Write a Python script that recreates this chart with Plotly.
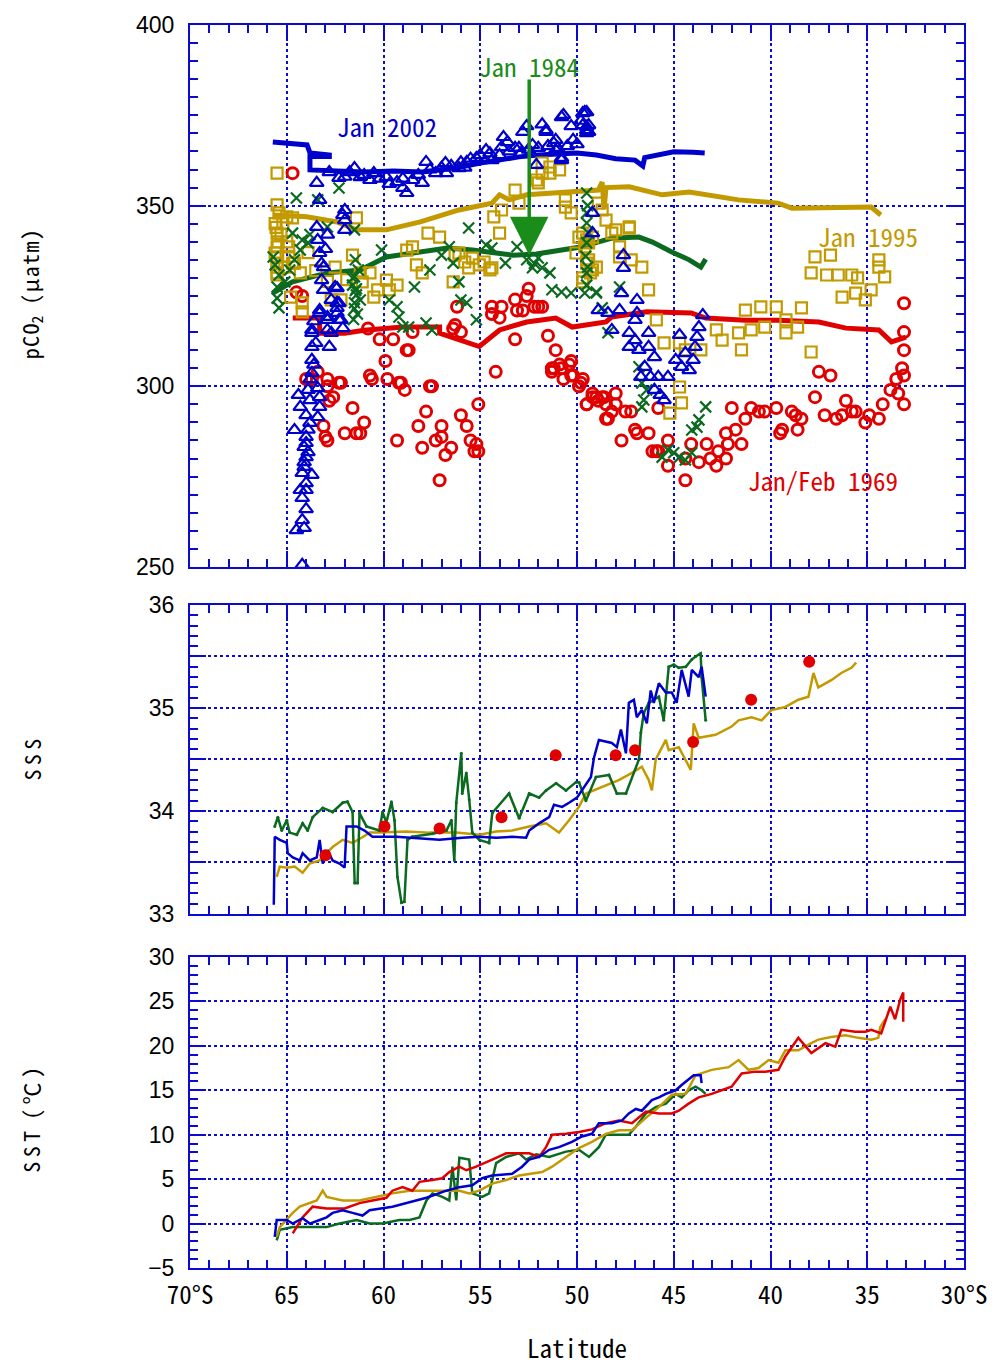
import plotly.graph_objects as go

# ---------------- pCO2 panel: atmospheric (thick) lines ----------------
atm2002_lat = [65.72, 63.95, 63.8, 62.8, 62.8, 63.8, 63.8, 62.5, 61.0, 59.5, 58.0, 57.0, 56.0, 55.0, 54.0, 53.0, 52.0,
               51.0, 50.0, 49.0, 48.0, 47.0, 46.6, 46.5, 45.7, 45.0, 44.0, 43.4]
atm2002_val = [367.6, 366.8, 364.6, 364.0, 363.6, 363.6, 359.9, 359.6, 359.3, 359.6, 359.3, 360.0, 360.7, 361.8, 362.8,
               363.5, 364.0, 364.3, 364.6, 364.0, 363.0, 362.6, 361.0, 363.3, 364.0, 364.9, 364.8, 364.6]

atm1969_lat = [64.69, 63.3, 63.3, 62.0, 61.0, 59.85, 59.0, 57.1, 57.1, 55.05, 54.0, 52.6, 51.1, 50.25, 48.5, 48.2, 46.4,
               44.1, 43.35, 41.3, 39.6, 37.5, 36.1, 34.4, 33.75, 33.0]
atm1969_val = [318.9, 318.9, 314.7, 314.7, 315.5, 316.0, 316.4, 316.4, 314.7, 311.0, 315.6, 317.8, 318.9, 316.4, 317.8,
               319.2, 320.6, 320.3, 318.9, 318.3, 318.3, 317.8, 316.1, 315.6, 312.3, 313.6]

atm1995_lat = [65.72, 63.97, 62.4, 61.4, 59.85, 58.1, 56.1, 54.4, 54.0, 53.5, 52.6, 50.9, 48.9, 48.7, 48.6, 48.5, 47.3,
               45.6, 44.2, 41.65, 39.6, 38.9, 36.1, 34.8, 34.3]
atm1995_val = [347.4, 346.9, 345.5, 343.3, 343.3, 345.5, 348.8, 350.7, 353.0, 351.6, 353.0, 353.5, 354.3, 356.5, 349.0,
               355.0, 355.2, 353.0, 353.8, 351.6, 350.7, 349.3, 349.6, 349.6, 347.4]

atm1984_lat = [65.72, 64.7, 62.9, 61.2, 59.85, 58.1, 56.7, 55.4, 54.4, 53.3, 52.1, 50.9, 49.9, 49.2, 48.2, 46.8, 46.1,
               45.1, 44.2, 43.6, 43.35]
atm1984_val = [325.8, 328.9, 331.4, 332.2, 335.8, 337.2, 338.3, 337.7, 336.9, 336.3, 336.6, 337.7, 338.5, 339.5, 341.0,
               341.3, 339.9, 337.2, 335.0, 333.0, 335.2]

# ---------------- pCO2 panel: seawater observations (markers) ----------------
sw1969 = [(64.7, 359), (64.5, 326), (64.2, 325), (64.0, 302), (63.4, 304), (62.9, 302), (62.9, 300), (62.2, 301),
          (62.8, 296), (62.6, 297), (61.6, 294), (63.1, 289), (63.0, 286), (62.9, 285), (62.0, 287), (61.4, 287),
          (61.2, 287), (61.0, 290), (60.8, 316), (60.6, 302), (60.2, 313), (59.9, 307), (59.8, 302), (59.5, 313),
          (59.1, 301), (58.9, 299), (59.3, 285), (58.7, 310), (58.5, 315), (58.2, 289), (57.8, 293), (58.0, 283),
          (57.5, 300), (57.3, 285), (57.0, 289), (57.0, 286), (57.1, 274), (56.8, 281), (56.5, 283), (56.3, 317),
          (56.0, 315), (56.2, 322), (56.0, 292), (55.7, 289), (55.5, 285), (55.3, 282), (55.1, 282), (55.2, 284),
          (55.1, 295), (54.2, 304), (54.4, 322), (53.9, 322), (54.4, 320), (54.0, 319), (53.2, 324), (53.1, 321),
          (52.6, 325), (52.5, 327), (52.0, 322), (51.8, 322), (53.2, 313), (51.5, 314), (51.1, 310), (51.2, 305),
          (50.8, 305), (50.3, 307), (50.7, 302), (50.3, 303), (49.8, 301), (49.9, 300), (49.5, 295), (49.2, 297),
          (48.9, 296), (48.6, 297), (48.5, 291), (52.8, 321), (52.2, 322), (56.4, 316), (50.9, 306), (50.4, 306),
          (51.3, 305), (51.3, 304), (50.2, 303), (58.8, 310), (59.2, 301), (57.6, 300), (60.7, 303), (62.3, 301),
          (63.7, 302), (33.1, 323), (33.1, 315), (33.1, 310), (33.2, 305), (33.1, 303), (33.5, 302), (33.8, 299),
          (33.4, 298), (33.1, 295), (34.2, 295), (34.4, 291), (34.9, 292), (35.1, 290), (35.6, 293), (35.8, 293),
          (36.1, 296), (36.3, 292), (36.6, 291), (37.2, 292), (36.9, 303), (37.5, 304), (37.7, 297), (38.4, 291),
          (38.7, 292), (38.9, 293), (38.6, 288), (39.4, 288), (39.5, 287), (39.7, 294), (40.3, 293), (40.6, 293),
          (41.0, 294), (41.3, 291), (41.8, 288), (41.5, 284), (42.0, 294), (42.3, 287), (42.2, 284), (42.3, 280),
          (42.7, 282), (42.8, 278), (43.1, 280), (43.3, 284), (44.1, 284), (43.7, 279), (44.4, 280), (45.3, 285),
          (45.8, 282), (46.1, 282), (46.3, 287), (47.0, 288), (46.9, 287), (47.7, 285), (47.2, 293), (47.5, 293),
          (48.0, 298), (48.0, 295), (48.5, 295), (48.7, 297), (49.0, 297), (49.2, 298), (49.5, 295), (49.7, 302),
          (48.4, 291), (48.2, 293), (45.8, 294), (45.9, 282), (45.3, 278), (44.4, 274)]

sw2002 = [(63.45, 356.3), (63.3, 351.6), (62.0, 348.8), (62.0, 346.0), (62.0, 343.3), (62.1, 347.4), (63.45, 344.1),
          (63.4, 340.5), (63.3, 336.9), (63.1, 333.0), (63.2, 329.4), (63.1, 326.7), (62.7, 323.9), (62.4, 327.2),
          (62.3, 323.0), (63.3, 321.1), (62.9, 318.4), (62.7, 314.8), (63.7, 314.8), (62.2, 318.4), (62.4, 320.3),
          (61.75, 359.3), (61.2, 357.9), (60.7, 357.1), (60.5, 359.0), (59.85, 357.9), (59.3, 356.5), (59.0, 354.9),
          (58.8, 353.5), (58.5, 357.1), (58.0, 356.3), (57.8, 362.1), (57.3, 359.0), (56.75, 359.0), (56.1, 360.4),
          (55.7, 362.1), (55.2, 363.2), (54.7, 365.4), (54.4, 362.6), (53.9, 366.2), (53.6, 367.6), (53.0, 366.0),
          (52.8, 370.4), (52.3, 366.8), (52.1, 361.3), (51.6, 370.4), (51.2, 367.3), (50.8, 362.6), (50.7, 375.1),
          (50.2, 368.2), (49.7, 375.6), (49.5, 371.8), (49.4, 370.4), (50.8, 374.5), (49.6, 375.9), (49.5, 370.9),
          (51.6, 370.9), (51.1, 368.2), (51.1, 365.4), (50.8, 363.2), (62.8, 359.3), (62.3, 357.7), (61.5, 360.4),
          (63.7, 315.6), (63.7, 310.9), (63.7, 307.3), (63.7, 303.7), (63.9, 299.0), (64.4, 297.6), (64.3, 294.3),
          (63.8, 296.2), (63.3, 294.3), (63.4, 291.5), (64.6, 287.9), (63.8, 289.9), (64.0, 286.0), (64.1, 283.2),
          (64.0, 280.4), (64.1, 277.7), (63.7, 275.5), (64.0, 273.2), (64.3, 271.3), (64.2, 269.1), (64.2, 263.0),
          (64.5, 260.2), (64.1, 260.8), (64.2, 250.6), (63.3, 320.3), (62.9, 319.2), (62.9, 315.6), (62.8, 310.9),
          (62.4, 321.7), (62.3, 318.4), (62.1, 316.1), (62.5, 327.5), (62.4, 323.1), (63.3, 297.0), (63.4, 299.5),
          (64.0, 284.3), (63.9, 281.8), (64.1, 279.0), (64.0, 271.3), (63.2, 334.0), (63.0, 338.0), (62.9, 342.0),
          (58.2, 358.5), (57.6, 360.0), (57.0, 360.5), (56.5, 361.0), (56.0, 362.0), (55.5, 363.0), (55.0, 364.0),
          (54.5, 364.5), (54.0, 364.0), (53.5, 365.0), (53.2, 366.0), (52.9, 364.5), (52.5, 365.5), (52.0, 366.0),
          (51.5, 366.5), (51.0, 366.0), (50.5, 366.5), (50.0, 367.0), (59.7, 356.0), (60.2, 357.5), (59.0, 357.5),
          (61.0, 358.5), (62.0, 358.0), (56.8, 361.8), (55.8, 360.5), (53.8, 369.0), (52.6, 372.0), (51.8, 372.5),
          (50.3, 372.0), (49.8, 373.5), (63.6, 318.0), (63.5, 312.0), (63.6, 306.0), (63.8, 302.0), (64.0, 292.0),
          (63.9, 288.0), (64.2, 276.0), (64.0, 266.0),
          (49.5, 375.9), (49.7, 372.3), (49.4, 372.3), (49.5, 370.1), (49.2, 348.0), (49.2, 342.4), (47.6, 336.3),
          (47.6, 332.8), (47.7, 325.8), (48.9, 321.1), (48.4, 320.3), (47.8, 321.1), (48.2, 315.6), (46.9, 323.9),
          (46.9, 320.3), (47.0, 318.4), (47.3, 314.8), (47.3, 310.9), (47.0, 312.8), (46.8, 310.1), (46.3, 314.8),
          (46.3, 310.9), (46.0, 308.1), (46.5, 305.4), (46.2, 302.6), (45.8, 302.6), (46.0, 299.0), (45.7, 297.6),
          (45.5, 296.2), (45.3, 302.6), (44.9, 307.3), (44.7, 314.2), (44.6, 305.4), (44.2, 304.5), (44.0, 307.3),
          (43.9, 310.9), (43.8, 313.7), (43.7, 316.4), (43.5, 319.7), (46.7, 302.6), (44.4, 309.2)]

sw1995 = [(65.5, 359.0), (65.5, 350.2), (65.4, 348.0), (65.5, 342.4), (65.5, 338.6), (65.6, 336.9), (65.5, 334.1),
          (65.5, 331.4), (65.0, 346.9), (64.9, 338.6), (64.6, 334.1), (65.2, 345.2), (64.7, 346.6), (65.5, 335.8),
          (65.5, 333.0), (64.7, 334.1), (64.3, 331.4), (64.2, 320.6), (62.5, 333.0), (61.6, 336.3), (61.4, 346.6),
          (62.2, 323.9), (62.7, 323.9), (61.2, 331.4), (61.1, 328.9), (60.7, 331.4), (60.5, 324.7), (60.3, 326.7),
          (59.85, 329.4), (59.7, 326.7), (59.3, 328.0), (58.8, 337.7), (58.5, 338.6), (58.3, 333.6), (58.0, 331.4),
          (57.7, 342.4), (57.1, 341.3), (56.4, 328.9), (56.1, 336.9), (55.4, 335.5), (55.05, 333.6), (54.4, 332.8),
          (54.0, 342.4), (54.3, 346.9), (53.9, 348.8), (53.2, 354.3), (53.0, 350.7), (52.1, 357.1), (51.8, 359.0),
          (51.4, 360.7), (50.9, 359.9), (50.6, 351.6), (50.3, 348.0), (49.9, 341.3), (49.6, 338.6), (49.5, 334.1),
          (49.3, 331.4), (49.7, 328.9), (65.5, 330.8), (64.8, 324.7), (64.2, 323.1), (52.0, 356.3), (51.4, 359.0),
          (51.8, 361.8), (50.6, 349.6), (49.2, 341.3), (48.9, 350.7), (49.5, 340.5), (50.05, 336.9), (49.0, 333.0),
          (47.8, 338.6), (47.3, 344.1), (48.0, 343.3), (49.4, 335.0), (48.7, 348.8), (48.5, 346.0), (49.7, 342.4),
          (48.2, 342.4), (47.3, 343.8), (49.4, 339.7), (47.8, 335.8), (47.2, 335.0), (46.65, 333.0), (46.3, 326.7),
          (49.2, 332.2), (49.7, 330.0), (45.9, 318.4), (45.5, 312.0), (44.7, 312.0), (44.4, 310.1), (43.6, 310.1),
          (44.7, 299.8), (44.6, 295.4), (45.2, 292.6), (42.8, 315.6), (42.5, 312.8), (41.65, 314.8), (41.5, 310.1),
          (41.0, 315.6), (40.3, 316.4), (41.3, 321.1), (40.5, 322.0), (39.7, 322.0), (38.4, 321.7), (39.2, 318.4),
          (38.6, 316.4), (39.2, 314.8), (37.9, 309.5), (37.7, 335.8), (36.9, 336.3), (37.9, 331.4), (37.1, 330.8),
          (36.5, 330.8), (35.8, 330.8), (35.5, 330.0), (36.3, 324.7), (35.6, 325.8), (35.1, 323.9), (34.8, 326.7),
          (34.4, 335.0), (34.4, 333.0), (34.1, 330.3), (56.3, 336.3), (55.8, 334.4), (55.6, 332.8), (54.8, 334.4),
          (54.5, 332.2), (63.9, 337.0), (63.5, 332.0), (62.9, 329.0), (61.9, 329.5), (65.6, 345.0), (65.45, 340.0),
          (65.55, 344.0), (65.3, 342.0), (65.0, 340.0), (64.9, 336.0), (65.1, 333.0)]

sw1984 = [(65.7, 335.8), (65.5, 327.5), (65.4, 321.7), (64.5, 352.1), (63.4, 351.6), (62.3, 354.9), (64.7, 342.4),
          (63.9, 339.7), (62.9, 344.1), (61.5, 343.3), (60.1, 337.7), (61.5, 330.3), (61.6, 328.0), (61.4, 325.3),
          (61.5, 323.1), (61.3, 332.2), (61.2, 323.9), (59.7, 323.9), (59.3, 322.0), (59.2, 319.2), (59.0, 316.4),
          (58.7, 316.4), (57.8, 317.5), (57.5, 315.6), (58.4, 327.5), (57.6, 332.2), (57.0, 336.3), (56.6, 338.6),
          (56.4, 334.1), (56.1, 328.9), (56.0, 323.9), (55.7, 323.1), (55.6, 343.8), (55.2, 318.4), (54.7, 339.1),
          (54.4, 338.3), (53.7, 334.1), (53.1, 338.6), (52.6, 335.0), (52.3, 332.8), (51.8, 332.8), (51.4, 331.4),
          (51.3, 326.7), (50.8, 326.1), (50.3, 325.8), (49.5, 353.5), (49.0, 325.8), (49.4, 342.4), (49.5, 339.7),
          (48.7, 321.7), (65.6, 333.6), (65.4, 330.8), (65.1, 328.9), (64.85, 332.2), (64.6, 335.0), (64.3, 337.7),
          (65.5, 324.4), (64.2, 340.5), (63.8, 342.0), (61.45, 335.0), (61.4, 327.0), (49.5, 345.2), (49.5, 331.4),
          (49.0, 326.1), (47.8, 327.5), (48.4, 314.8), (49.6, 325.8), (46.8, 305.4), (46.65, 300.9), (46.55, 296.2),
          (46.65, 294.3), (46.4, 299.0), (44.07, 287.9), (43.7, 290.7), (43.35, 294.3), (43.8, 288.7), (45.0, 281.6),
          (44.7, 280.4), (44.4, 279.6), (45.3, 282.4), (45.6, 280.4), (44.07, 281.6), (52.2, 334.0), (52.0, 335.5),
          (61.6, 330.0), (61.45, 326.5), (61.5, 321.5), (61.35, 320.0), (61.55, 318.5), (49.45, 350.0),
          (49.5, 348.0), (49.55, 336.0), (49.45, 333.0), (49.5, 328.0)]

# ---------------- SSS panel ----------------
sss2002_lat = [65.67, 65.62, 65.36, 65.00, 64.95, 64.69, 64.33, 64.18, 63.81, 63.45, 63.30, 63.14, 62.89, 62.63, 62.27,
               62.01, 61.91, 61.39, 60.98, 60.82, 60.57, 59.33, 58.51, 57.11, 55.93, 55.05, 54.18, 53.35, 52.63, 52.47,
               51.96, 51.44, 51.19, 50.77, 50.41, 50.00, 49.28, 49.12, 48.87, 48.20, 47.94, 47.73, 47.47, 47.32, 47.06,
               46.91, 46.65, 46.39, 46.19, 46.03, 45.77, 45.41, 45.10, 44.85, 44.59, 44.23, 44.07, 43.71, 43.56, 43.35]
sss2002_val = [33.09, 33.75, 33.72, 33.69, 33.59, 33.55, 33.52, 33.59, 33.52, 33.55, 33.72, 33.49, 33.62, 33.52, 33.49,
               33.45, 33.85, 33.85, 33.81, 33.79, 33.75, 33.75, 33.74, 33.72, 33.74, 33.75, 33.74, 33.75, 33.74, 33.81,
               33.88, 33.94, 34.06, 34.04, 34.08, 34.13, 34.33, 34.52, 34.69, 34.66, 34.62, 34.79, 34.56, 35.05, 35.08,
               34.91, 34.98, 34.85, 35.17, 35.05, 35.24, 35.15, 35.15, 35.05, 35.37, 35.11, 35.37, 35.30, 35.40, 35.11]

sss1984_lat = [65.62, 65.46, 65.26, 65.00, 64.85, 64.48, 64.18, 63.92, 63.66, 63.14, 62.63, 62.11, 61.86, 61.60, 61.49,
               61.34, 61.24, 60.88, 60.21, 60.05, 59.85, 59.59, 59.43, 59.28, 59.07, 58.92, 58.76, 58.51, 57.47, 56.75,
               56.49, 56.34, 56.24, 55.98, 55.93, 55.72, 55.57, 55.41, 55.05, 54.54, 54.38, 53.51, 52.99, 52.47, 51.96,
               51.60, 51.08, 50.57, 50.05, 49.90, 49.54, 49.02, 48.35, 47.94, 47.47, 46.80, 46.70, 46.55, 46.29, 45.77,
               45.52, 45.26, 45.00, 44.74, 44.38, 44.07, 43.87, 43.61, 43.56, 43.35]
sss1984_val = [33.85, 33.94, 33.81, 33.91, 33.79, 33.77, 33.88, 33.81, 33.94, 34.03, 33.99, 34.08, 34.09, 33.99, 33.30,
               33.30, 33.98, 33.85, 33.81, 33.99, 33.89, 34.09, 33.91, 33.36, 33.11, 33.12, 33.72, 33.75, 33.78, 33.81,
               33.91, 33.52, 34.08, 34.56, 34.17, 34.37, 34.11, 33.79, 33.72, 33.69, 33.98, 34.17, 33.93, 34.17, 34.13,
               34.20, 34.27, 34.20, 34.28, 34.28, 34.10, 34.33, 34.35, 34.17, 34.17, 34.50, 34.76, 34.95, 35.05, 35.11,
               34.88, 35.40, 35.42, 35.39, 35.40, 35.47, 35.50, 35.53, 35.30, 34.88]

sss1995_lat = [65.52, 65.36, 65.00, 64.59, 64.18, 63.81, 63.30, 62.94, 62.63, 62.11, 61.60, 61.13, 60.72, 60.21, 58.81,
               57.63, 56.24, 55.05, 54.18, 53.35, 52.47, 51.60, 50.93, 50.41, 49.90, 49.54, 48.71, 47.84, 47.16, 46.65,
               46.29, 46.13, 45.93, 45.41, 45.26, 44.74, 44.12, 43.97, 43.71, 42.84, 42.01, 41.65, 40.98, 40.46, 39.95,
               39.23, 38.56, 38.04, 37.78, 37.53, 36.86, 36.34, 35.82, 35.57]
sss1995_val = [33.36, 33.46, 33.45, 33.46, 33.40, 33.49, 33.52, 33.59, 33.65, 33.72, 33.69, 33.74, 33.79, 33.79, 33.80,
               33.79, 33.79, 33.77, 33.80, 33.81, 33.85, 33.88, 33.79, 33.91, 34.04, 34.17, 34.23, 34.30, 34.37, 34.43,
               34.30, 34.20, 34.50, 34.69, 34.59, 34.62, 34.40, 34.85, 34.71, 34.74, 34.82, 34.88, 34.91, 34.88, 34.98,
               35.01, 35.08, 35.11, 35.34, 35.20, 35.27, 35.34, 35.39, 35.44]

sss1969_lat = [63.0, 59.95, 57.1, 53.9, 51.1, 48.0, 47.0, 44.0, 41.0, 38.0]
sss1969_val = [33.57, 33.85, 33.83, 33.94, 34.54, 34.54, 34.59, 34.67, 35.08, 35.45]

# ---------------- SST panel ----------------
sst2002_lat = [65.62, 65.52, 65.00, 64.69, 64.18, 63.81, 63.30, 62.94, 62.63, 62.11, 61.60, 61.08, 60.72, 60.21, 59.54,
               58.66, 57.78, 56.75, 56.08, 55.41, 54.90, 54.38, 53.35, 52.84, 52.47, 51.96, 51.44, 50.93, 50.26, 49.74,
               49.23, 48.87, 48.20, 47.68, 47.32, 46.96, 46.65, 46.13, 45.77, 45.41, 44.90, 44.59, 44.23, 43.97, 43.61,
               43.56]
sst2002_val = [-1.5, 0.4, 0.4, 0.0, 0.6, 0.0, 0.4, 0.7, 1.2, 1.5, 1.2, 0.9, 1.5, 1.7, 1.9, 2.4, 2.9, 3.7, 4.1, 4.3, 5.1,
               5.4, 5.6, 6.4, 7.2, 7.5, 8.3, 8.6, 9.2, 9.8, 10.1, 11.3, 11.3, 11.6, 12.4, 12.9, 12.7, 13.9, 14.2, 14.6,
               15.0, 15.6, 16.2, 16.7, 16.7, 15.8]

sst1969_lat = [64.69, 64.18, 63.66, 62.94, 62.01, 61.24, 60.57, 59.85, 59.54, 59.02, 58.51, 58.14, 57.47, 56.96, 56.60,
               56.08, 55.72, 55.21, 54.38, 53.66, 52.99, 52.47, 51.96, 51.60, 51.29, 50.57, 49.90, 49.23, 48.51, 47.84,
               47.16, 46.44, 45.77, 45.10, 44.74, 44.23, 43.71, 43.04, 42.53, 42.01, 41.49, 40.77, 40.26, 39.59, 39.23,
               38.56, 37.89, 37.16, 36.65, 36.34, 35.62, 35.10, 34.79, 34.28, 33.81, 33.56, 33.30, 33.14, 33.14]
sst1969_val = [-1.1, 0.7, 1.9, 1.7, 1.7, 2.3, 2.6, 2.9, 3.7, 4.1, 3.7, 4.7, 4.9, 5.1, 5.8, 6.4, 6.0, 6.4, 7.2, 7.9, 7.9,
               7.9, 7.5, 8.6, 10.0, 10.1, 10.3, 10.6, 11.3, 11.6, 11.3, 12.6, 12.4, 12.4, 12.7, 13.5, 14.2, 14.6, 15.0,
               15.4, 16.9, 17.1, 17.1, 17.3, 18.8, 20.9, 19.2, 20.3, 19.9, 21.8, 21.6, 21.6, 21.8, 21.4, 24.4, 23.0,
               25.2, 26.0, 22.7]

sst1995_lat = [65.52, 65.36, 64.69, 64.33, 63.45, 63.14, 62.94, 62.11, 61.24, 60.36, 59.54, 58.66, 57.78, 56.96, 56.08,
               55.57, 55.05, 54.38, 53.66, 52.99, 52.32, 51.80, 51.29, 50.57, 49.90, 49.23, 48.51, 47.84, 47.16, 46.44,
               45.77, 45.10, 44.38, 43.87, 43.04, 42.16, 41.65, 41.13, 40.62, 40.10, 39.59, 39.23, 38.56, 37.89, 37.53,
               36.86, 36.13, 35.46, 34.79, 34.43, 34.33, 34.07]
sst1995_val = [-1.5, -0.4, 1.2, 1.9, 2.6, 3.7, 3.0, 2.6, 2.6, 3.0, 3.4, 3.7, 3.7, 3.7, 3.7, 3.4, 3.7, 4.5, 4.9, 5.4, 5.6,
               5.8, 6.4, 7.5, 8.5, 9.2, 10.1, 10.5, 10.5, 11.9, 13.1, 14.5, 14.6, 16.7, 17.3, 17.6, 18.4, 17.3, 17.5,
               18.4, 18.1, 19.5, 19.5, 20.3, 20.7, 21.0, 21.2, 20.9, 20.7, 20.9, 22.1, 23.0]

sst1984_lat = [65.52, 65.36, 64.69, 63.81, 62.94, 62.27, 61.39, 60.72, 60.05, 59.18, 58.66, 58.14, 57.78, 57.47, 56.96,
               56.60, 56.44, 56.24, 56.08, 55.57, 55.41, 54.90, 54.54, 54.18, 53.66, 52.99, 52.63, 52.11, 51.44, 50.57,
               49.90, 49.38, 48.87, 48.51, 47.32, 46.96, 46.44, 45.93, 45.41, 44.90, 44.59, 44.23, 43.87, 43.56, 43.35]
sst1984_val = [-1.9, -0.7, -0.4, -0.4, -0.4, 0.0, 0.4, 0.0, 0.0, 0.4, 0.4, 0.7, 2.6, 3.4, 3.0, 2.6, 6.4, 2.6, 7.4, 7.2,
               3.4, 3.0, 3.4, 6.8, 7.5, 7.9, 7.2, 7.8, 7.5, 8.1, 8.3, 7.5, 8.6, 10.0, 10.0, 10.9, 12.4, 13.1, 13.5, 14.6,
               14.2, 15.0, 15.4, 15.0, 14.6]

# ---------------- axis labels ----------------
lat_ticks = [70, 65, 60, 55, 50, 45, 40, 35, 30]
lat_ticktext = ["70°S", "65", "60", "55", "50", "45", "40", "35", "30°S"]
co2_ticks = [250, 300, 350, 400]
sss_ticks = [33, 33.5, 34, 34.5, 35, 35.5, 36]
sss_ticktext = ["33", " ", "34", " ", "35", " ", "36"]
sst_ticks = [-5, 0, 5, 10, 15, 20, 25, 30]
sst_ticktext = ["\u22125", "0", "5", "10", "15", "20", "25", "30"]

# ---------------- styles ----------------
BLUE = "#0000cc"
RED = "#e00000"
GOLD = "#c29a00"
GREEN = "#0b6a20"
GREEN_TXT = "#1a8c1a"
AX = "#0a0ad0"
MONO = "Noto Sans Mono CJK JP, Noto Sans CJK JP, sans-serif"
TICKFONT = dict(family="Liberation Sans, Arial, sans-serif", size=23, color="black")

fig = go.Figure()


def line(lat, val, color, width, xa, ya, markers=False):
    fig.add_trace(go.Scatter(x=lat, y=val, mode="lines+markers" if markers else "lines",
                             line=dict(color=color, width=width),
                             marker=dict(size=3, color=color),
                             xaxis=xa, yaxis=ya, hoverinfo="skip"))


def pts(pairs, symbol, color, size, lw, xa="x", ya="y"):
    fig.add_trace(go.Scatter(x=[p[0] for p in pairs], y=[p[1] for p in pairs], mode="markers",
                             marker=dict(symbol=symbol, size=size, color=color,
                                         line=dict(color=color, width=lw)),
                             xaxis=xa, yaxis=ya, hoverinfo="skip"))


# pCO2 panel
line(atm1969_lat, atm1969_val, RED, 5, "x", "y")
line(atm1995_lat, atm1995_val, GOLD, 5, "x", "y")
line(atm1984_lat, atm1984_val, GREEN, 5, "x", "y")
line(atm2002_lat, atm2002_val, BLUE, 5, "x", "y")
pts(sw1969, "circle-open", RED, 11, 3)
pts(sw1995, "square-open", GOLD, 11, 2.2)
pts(sw1984, "x-thin-open", GREEN, 11, 2.2)
pts(sw2002, "triangle-up-open", BLUE, 12, 2.2)

# SSS panel
line(sss1995_lat, sss1995_val, GOLD, 2.5, "x2", "y2")
line(sss1984_lat, sss1984_val, GREEN, 2.5, "x2", "y2", markers=True)
line(sss2002_lat, sss2002_val, BLUE, 2.5, "x2", "y2")
fig.add_trace(go.Scatter(x=sss1969_lat, y=sss1969_val, mode="markers",
                         marker=dict(symbol="circle", size=12, color=RED),
                         xaxis="x2", yaxis="y2", hoverinfo="skip"))

# SST panel
line(sst1984_lat, sst1984_val, GREEN, 2.5, "x3", "y3")
line(sst1995_lat, sst1995_val, GOLD, 2.5, "x3", "y3")
line(sst1969_lat, sst1969_val, RED, 2.5, "x3", "y3")
line(sst2002_lat, sst2002_val, BLUE, 2.5, "x3", "y3")

# axes
common_x = dict(range=[70, 30], tickmode="array", tickvals=lat_ticks, ticks="inside", ticklen=16, tickwidth=2,
                tickcolor=AX, showline=True, linecolor=AX, linewidth=2, mirror="ticks",
                showgrid=True, gridcolor=AX, griddash="dot", gridwidth=1.5, zeroline=False,
                minor=dict(dtick=1, tick0=30, ticks="inside", ticklen=8, tickwidth=2, tickcolor=AX, showgrid=False))
common_y = dict(ticks="inside", ticklen=16, tickwidth=2, tickcolor=AX, showline=True, linecolor=AX, linewidth=2,
                mirror="ticks", showgrid=True, gridcolor=AX, griddash="dot", gridwidth=1.5, zeroline=False,
                tickfont=TICKFONT, ticklabelstandoff=9)

fig.update_layout(
    width=999, height=1365,
    margin=dict(l=190, r=33, t=25, b=97),
    paper_bgcolor="white", plot_bgcolor="white", showlegend=False,
    xaxis=dict(common_x, domain=[0, 1], anchor="y", showticklabels=False),
    xaxis2=dict(common_x, domain=[0, 1], anchor="y2", showticklabels=False, matches="x"),
    xaxis3=dict(common_x, domain=[0, 1], anchor="y3", showticklabels=True, ticktext=lat_ticktext,
                tickfont=dict(family=MONO, size=25, color="black"), ticklabelstandoff=4, matches="x"),
    yaxis=dict(common_y, domain=[0.564, 1], anchor="x", range=[250, 400], tickmode="array", tickvals=co2_ticks,
               minor=dict(dtick=5, tick0=250, ticks="inside", ticklen=8, tickwidth=2, tickcolor=AX, showgrid=False)),
    yaxis2=dict(common_y, domain=[0.2848, 0.5334], anchor="x2", range=[33, 36], tickmode="array",
                tickvals=sss_ticks, ticktext=sss_ticktext,
                minor=dict(dtick=0.1, tick0=33, ticks="inside", ticklen=8, tickwidth=2, tickcolor=AX, showgrid=False)),
    yaxis3=dict(common_y, domain=[0, 0.2502], anchor="x3", range=[-5, 30], tickmode="array",
                tickvals=sst_ticks, ticktext=sst_ticktext,
                minor=dict(dtick=1, tick0=-5, ticks="inside", ticklen=8, tickwidth=2, tickcolor=AX, showgrid=False)),
)

NB = "\u00a0"
TH = "\u2009"
HR = "\u200a"
fig.add_annotation(x=59.8, y=372, xref="x", yref="y", text="Jan" + NB + "2002", showarrow=False,
                   font=dict(family=MONO, size=25, color=BLUE))
fig.add_annotation(x=52.5, y=388.7, xref="x", yref="y", text="Jan" + NB + "1984", showarrow=False,
                   font=dict(family=MONO, size=25, color=GREEN_TXT))
fig.add_annotation(x=34.95, y=341.6, xref="x", yref="y", text="Jan" + NB + "1995", showarrow=False,
                   font=dict(family=MONO, size=25, color=GOLD))
fig.add_annotation(x=37.3, y=274, xref="x", yref="y", text="Jan/Feb" + NB + "1969", showarrow=False,
                   font=dict(family=MONO, size=25, color=RED))
fig.add_annotation(x=52.47, y=336.3, ax=52.47, ay=385.3, xref="x", yref="y", axref="x", ayref="y", text="",
                   showarrow=True, arrowhead=2, arrowsize=2.2, arrowwidth=3.5, arrowcolor=GREEN_TXT)

pco2_title = HR.join(["p", "C", "O"]) + "<sub>2</sub>" + NB + HR.join(["(", "µ", "a", "t", "m", ")"])
fig.add_annotation(x=-0.206, y=0.783, xref="paper", yref="paper", xanchor="center", yanchor="middle",
                   text=pco2_title, textangle=-90,
                   showarrow=False, font=dict(family=MONO, size=22, color="black"))
fig.add_annotation(x=-0.206, y=0.4087, xref="paper", yref="paper", xanchor="center", yanchor="middle",
                   text=TH.join(["S", "S", "S"]), textangle=-90,
                   showarrow=False, font=dict(family=MONO, size=22, color="black"))
fig.add_annotation(x=-0.206, y=0.119, xref="paper", yref="paper", xanchor="center", yanchor="middle",
                   text=TH.join(["S", "S", "T"]) + NB + TH.join(["(", "℃", ")"]), textangle=-90,
                   showarrow=False, font=dict(family=MONO, size=22, color="black"))
fig.add_annotation(x=0.5, y=-0.0636, xref="paper", yref="paper", xanchor="center", yanchor="middle",
                   text="Latitude", showarrow=False,
                   font=dict(family=MONO, size=25, color="black"))

fig.write_html("out.html", post_script="document.body.style.margin='0px';",
               config={"displayModeBar": False})
